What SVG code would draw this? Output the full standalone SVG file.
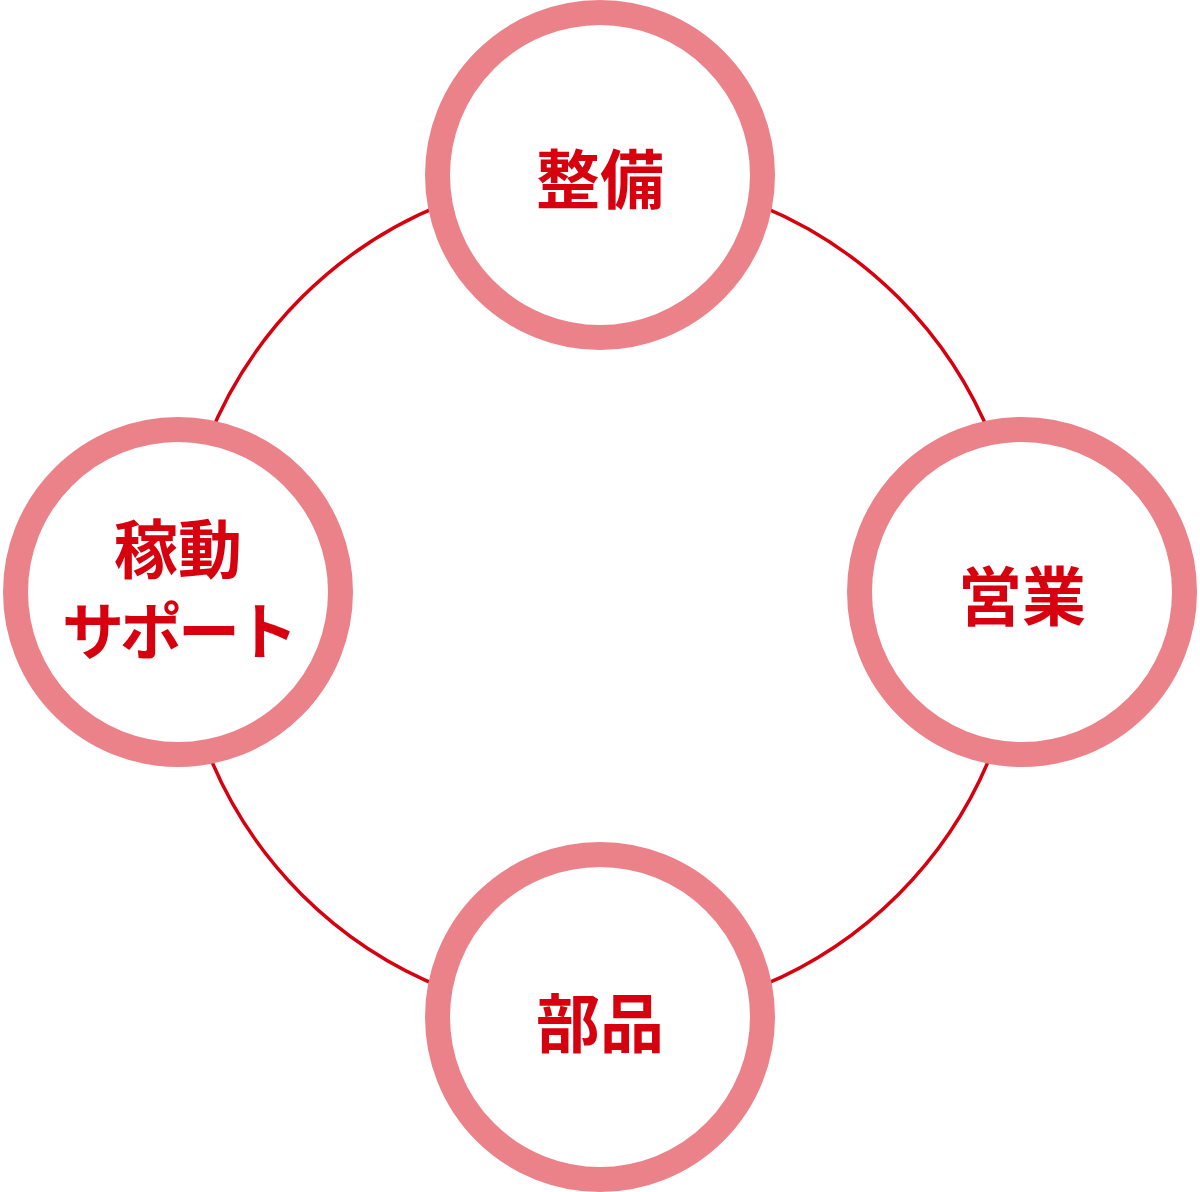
<svg xmlns="http://www.w3.org/2000/svg" width="1200" height="1192" viewBox="0 0 1200 1192">
<style>
.ring{fill:#ffffff;stroke:#eb828a;stroke-width:25}
.lbl{font-family:"Noto Sans CJK JP","Noto Sans CJK SC",sans-serif;font-weight:bold;font-size:64px;fill:#d7000f;text-anchor:middle}
</style>
<rect width="1200" height="1192" fill="#ffffff"/>
<g id="connectors">
<circle cx="600" cy="596" r="422" fill="none" stroke="#d7000f" stroke-width="3.5"/>
</g>
<g id="node-seibi">
<circle class="ring" cx="600" cy="175" r="162.5"/>
<text class="lbl" x="600" y="203">整備</text>
</g>
<g id="node-eigyo">
<circle class="ring" cx="1022" cy="592" r="162.5"/>
<text class="lbl" x="1022" y="620">営業</text>
</g>
<g id="node-buhin">
<circle class="ring" cx="600" cy="1017" r="162.5"/>
<text class="lbl" x="600" y="1047">部品</text>
</g>
<g id="node-support">
<circle class="ring" cx="178" cy="592" r="162.5"/>
<text class="lbl" x="178" y="573">稼動</text>
<text class="lbl" x="178" y="655" style="font-size:62px;letter-spacing:-4px">サポート</text>
</g>
</svg>
